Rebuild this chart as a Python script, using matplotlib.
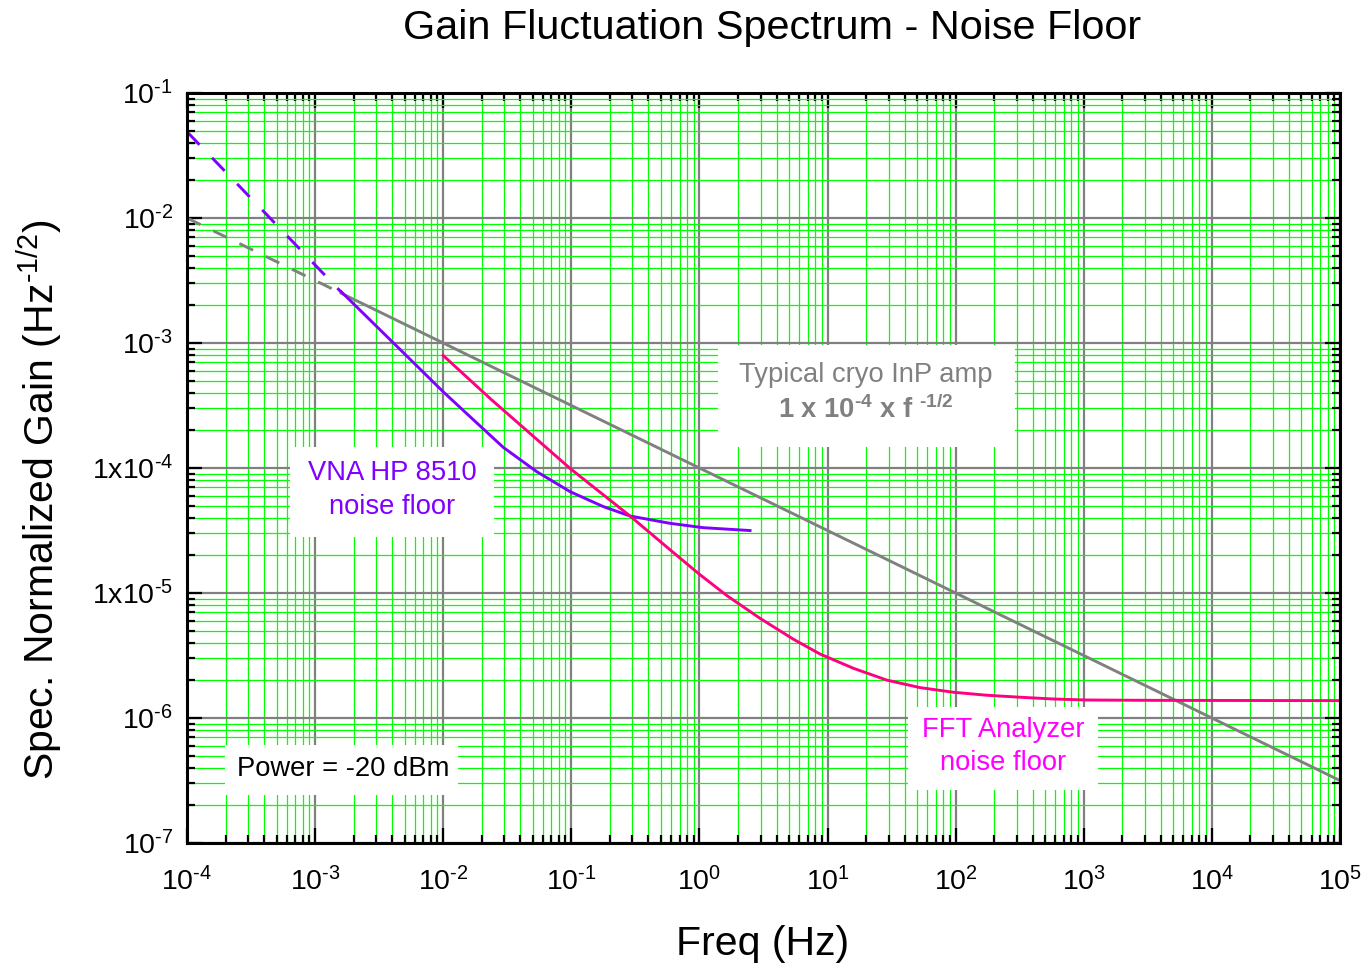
import numpy as np
import matplotlib
matplotlib.use("Agg")
import matplotlib.pyplot as plt
from matplotlib.ticker import LogLocator, NullFormatter
from matplotlib.patches import Rectangle

plt.rcParams['font.family'] = ['Liberation Sans', 'DejaVu Sans']
plt.rcParams['mathtext.fontset'] = 'custom'
plt.rcParams['mathtext.rm'] = 'Liberation Sans'
plt.rcParams['mathtext.it'] = 'Liberation Sans:italic'
plt.rcParams['mathtext.bf'] = 'Liberation Sans:bold'
plt.rcParams['mathtext.default'] = 'regular'

# ---------------- data ----------------
amp_dash_f = [1e-4, 1.6e-3]
amp_dash_g = [1e-2, 2.5e-3]
amp_solid_f = [1.6e-3, 1e5]
amp_solid_g = [2.5e-3, 3.16e-7]

vna_dash_f = [1e-4, 1.6e-3]
vna_dash_g = [4.9e-2, 2.55e-3]
vna_f = [1.6e-3, 4.0e-3, 1.0e-2, 0.01618, 0.02944, 0.0537, 0.09772, 0.1778, 0.2871, 0.5888, 1.072, 2.483]
vna_g = [2.57e-3, 1.023e-3, 4.07e-4, 2.576e-4, 1.462e-4, 9.35e-5, 6.47e-5, 4.91e-5, 4.13e-5, 3.61e-5, 3.33e-5, 3.16e-5]

fft_f = [1.0e-2, 0.02393, 0.03133, 0.0977, 0.2871, 0.5888, 0.9795, 1.633, 2.972, 5.408, 8.73,
         15.89, 28.97, 52.72, 95.94, 175.0, 318.4, 579.4, 1054, 3499, 1e5]
fft_g = [7.94e-4, 3.50e-4, 2.75e-4, 9.93e-5, 4.13e-5, 2.22e-5, 1.436e-5, 9.55e-6, 6.27e-6, 4.27e-6, 3.25e-6,
         2.50e-6, 2.01e-6, 1.75e-6, 1.607e-6, 1.521e-6, 1.466e-6, 1.419e-6, 1.393e-6, 1.384e-6, 1.377e-6]

H = '\u2010'
x_ticks = [1e-4, 1e-3, 1e-2, 1e-1, 1e0, 1e1, 1e2, 1e3, 1e4, 1e5]
x_labels = [rf'$10^{{{H}4}}$', rf'$10^{{{H}3}}$', rf'$10^{{{H}2}}$', rf'$10^{{{H}1}}$', r'$10^{0}$',
            r'$10^{1}$', r'$10^{2}$', r'$10^{3}$', r'$10^{4}$', r'$10^{5}$']
y_ticks = [1e-7, 1e-6, 1e-5, 1e-4, 1e-3, 1e-2, 1e-1]
y_labels = [rf'$10^{{{H}7}}$', rf'$10^{{{H}6}}$', rf'$1x10^{{{H}5}}$', rf'$1x10^{{{H}4}}$',
            rf'$10^{{{H}3}}$', rf'$10^{{{H}2}}$', rf'$10^{{{H}1}}$']

GRAY = '#808080'
PURPLE = '#8000FF'
PINK = '#FF0080'
MAGENTA = '#FF00FF'

# ---------------- figure ----------------
fig = plt.figure(figsize=(13.66, 9.67), dpi=100)
ax = fig.add_axes([187/1366, 1-843/967, 1153/1366, 750/967])
ax.set_xscale('log')
ax.set_yscale('log')

ax.xaxis.set_minor_locator(LogLocator(base=10, subs=np.arange(2, 10), numticks=300))
ax.yaxis.set_minor_locator(LogLocator(base=10, subs=np.arange(2, 10), numticks=300))
ax.xaxis.set_minor_formatter(NullFormatter())
ax.yaxis.set_minor_formatter(NullFormatter())
ax.set_xticks(x_ticks, x_labels)
ax.set_yticks(y_ticks, y_labels)
ax.set_xlim(1e-4, 1e5)
ax.set_ylim(1e-7, 1e-1)

ax.set_axisbelow(True)
ax.grid(which='minor', color='#00FF00', linewidth=0.9)
ax.grid(which='major', color=GRAY, linewidth=1.6)

for s in ax.spines.values():
    s.set_linewidth(2.2)
    s.set_zorder(10)
ax.tick_params(which='both', direction='in', top=True, right=True, width=1.6, color='black')
ax.tick_params(which='major', length=11, labelsize=20.5)
ax.tick_params(which='minor', length=6)
ax.tick_params(axis='x', which='major', pad=17)
ax.tick_params(axis='y', which='major', pad=10)

lw = 2.1
ax.plot(amp_dash_f, amp_dash_g, color=GRAY, lw=lw, dashes=(5.2, 4.8), zorder=3)
ax.plot(amp_solid_f, amp_solid_g, color=GRAY, lw=lw, zorder=3)
ax.plot(vna_dash_f, vna_dash_g, color=PURPLE, lw=lw, dashes=(6.2, 6.2), zorder=4)
ax.plot(vna_f, vna_g, color=PURPLE, lw=lw, zorder=4, solid_joinstyle='round')
ax.plot(fft_f, fft_g, color=PINK, lw=lw, zorder=4, solid_joinstyle='round')

def box(x0, x1, y0, y1):
    fx0 = (x0-187)/1153; fx1 = (x1-187)/1153
    fy0 = (843-y1)/750; fy1 = (843-y0)/750
    ax.add_patch(Rectangle((fx0, fy0), fx1-fx0, fy1-fy0, transform=ax.transAxes,
                           facecolor='white', edgecolor='none', zorder=2))

def txt(x, y, s, **kw):
    ax.text((x-187)/1153, (843-y)/750, s, transform=ax.transAxes,
            ha='center', va='center', zorder=5, **kw)

FS = 19.7
box(718, 1015, 345, 447)
txt(866, 375, 'Typical cryo InP amp', color=GRAY, fontsize=FS)
txt(866, 410, rf'1 x 10$^{{{H}4}}$ x f $^{{{H}1/2}}$', color=GRAY, fontsize=FS, fontweight='bold')

box(290, 494, 447, 537)
txt(392, 473, 'VNA HP 8510', color=PURPLE, fontsize=FS)
txt(392, 507, 'noise floor', color=PURPLE, fontsize=FS)

box(908, 1098, 707, 790)
txt(1003, 730, 'FFT Analyzer', color=MAGENTA, fontsize=FS)
txt(1003, 763, 'noise floor', color=MAGENTA, fontsize=FS)

box(225, 458, 745, 795)
txt(343, 769, 'Power = -20 dBm', color='black', fontsize=FS)

fig.text(772/1366, 1-28/967, 'Gain Fluctuation Spectrum - Noise Floor',
         ha='center', va='center', fontsize=29.8)
fig.text(763/1366, 1-944/967, 'Freq (Hz)', ha='center', va='center', fontsize=29.5)
fig.text(40/1366, 1-500/967, rf'Spec. Normalized Gain (Hz$^{{{H}1/2}}$)',
         ha='center', va='center', rotation=90, fontsize=29.5)

fig.savefig('out.png', dpi=100)
